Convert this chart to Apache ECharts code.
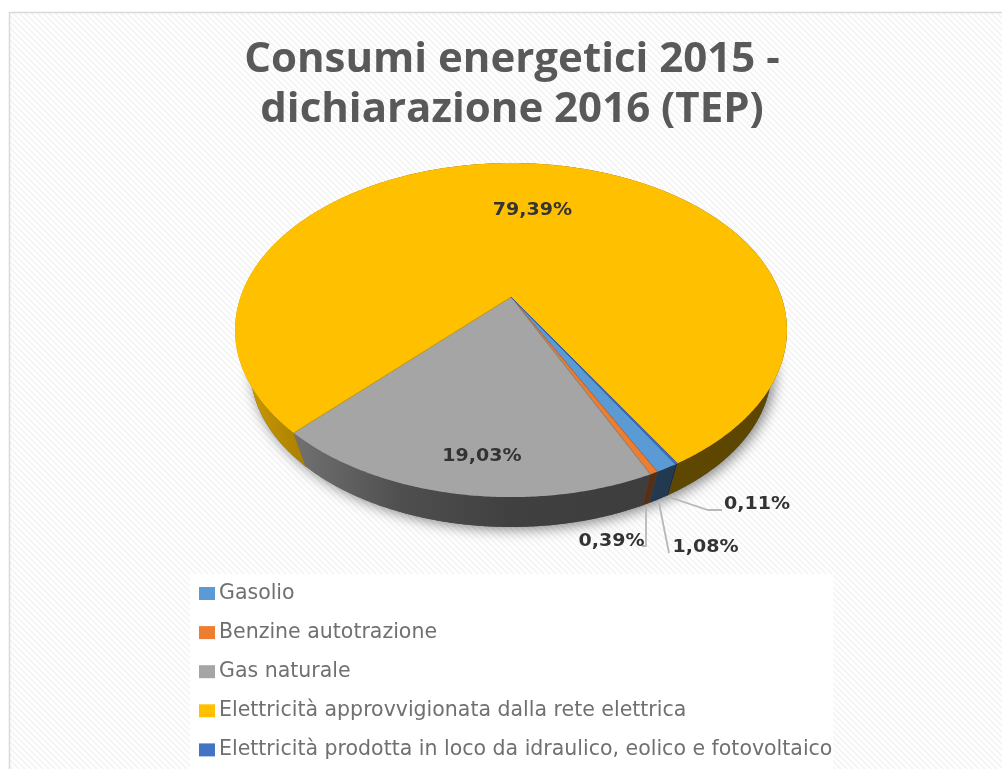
<!DOCTYPE html>
<html><head><meta charset="utf-8">
<style>html,body{margin:0;padding:0;background:#fff}#c{width:1002px;height:769px;filter:blur(0.55px)}</style>
<script src="https://cdn.jsdelivr.net/npm/echarts@6/dist/echarts.min.js"></script>
</head><body><div id="c"></div>
<script>
const titleLines = ['Consumi energetici 2015 -', 'dichiarazione 2016 (TEP)'];
const categories = ['Gasolio', 'Benzine autotrazione', 'Gas naturale',
  'Elettricità approvvigionata dalla rete elettrica',
  'Elettricità prodotta in loco da idraulico, eolico e fotovoltaico'];
const values = [1.08, 0.39, 19.03, 79.39, 0.11];
const colors = ['#5B9BD5', '#ED7D31', '#A5A5A5', '#FFC000', '#4472C4'];

// layout only
const firstAngle = 149.7;
const P = {cx: 511, cy: 297, A: 270.5, B: 160.5, k: 0.198, vx: 511, vy: 1030, s: 0.944};
const labelAt = [[705.5, 548], [611.5, 542], [482, 457], [532.5, 211], [757, 505]];
const leaders = [
  [[659, 503], [669, 553]],
  [[646, 506], [646, 546], [642, 546]],
  null, null,
  [[669, 497], [708, 510], [722, 510]]
];
const total = values.reduce((a, b) => a + b, 0);
const pct = v => v.toFixed(2).replace('.', ',') + '%';

function topPt(deg) {
  const t = deg * Math.PI / 180, X = Math.sin(t), Y = Math.cos(t), w = 1 + P.k * Y;
  return [P.cx + P.A * X / w, P.cy - P.B * Y / w];
}
function lowPt(p) { return [P.vx + (p[0] - P.vx) * P.s, P.vy + (p[1] - P.vy) * P.s]; }
function arc(a0, a1) {
  const n = Math.max(2, Math.ceil((a1 - a0) * 2)), out = [];
  for (let i = 0; i <= n; i++) out.push(topPt(a0 + (a1 - a0) * i / n));
  return out;
}
function shade(hex, f) {
  const n = parseInt(hex.slice(1), 16);
  return 'rgb(' + [(n >> 16) & 255, (n >> 8) & 255, n & 255].map(c => Math.round(c * f)).join(',') + ')';
}
function wallFill(hex) {
  return {type: 'linear', global: true, x: 235, y: 0, x2: 787, y2: 0, colorStops: [
    {offset: 0, color: shade(hex, 0.82)},
    {offset: 0.13, color: shade(hex, 0.66)},
    {offset: 0.3, color: shade(hex, 0.48)},
    {offset: 0.5, color: shade(hex, 0.39)},
    {offset: 1, color: shade(hex, 0.36)}]};
}
function startOf(i) {
  let s = firstAngle;
  for (let j = 0; j < i; j++) s += values[j] / total * 360;
  return s;
}
function render(i) {
  return function (params, api) {
    const a0 = startOf(i), a1 = a0 + api.value(0) / total * 360;
    const rim = arc(a0, a1), children = [];
    if (i === 0) {
      children.push({type: 'polygon', silent: true, z2: 1, shape: {points: arc(0, 360).map(lowPt)},
        style: {fill: '#555', shadowBlur: 14, shadowColor: 'rgba(0,0,0,0.5)', shadowOffsetX: 3, shadowOffsetY: 2}});
    }
    children.push({type: 'polygon', z2: 2, shape: {points: rim.concat(rim.slice().reverse().map(lowPt))},
      style: {fill: wallFill(colors[i])}});
    children.push({type: 'polygon', z2: 3, shape: {points: [[P.cx, P.cy]].concat(rim)},
      style: {fill: colors[i]}});
    children.push({type: 'polyline', z2: 3, shape: {points: [rim[0], [P.cx, P.cy], rim[rim.length - 1]]},
      style: {stroke: shade(colors[i], 0.8), lineWidth: 0.8, fill: null}});
    if (leaders[i]) {
      children.push({type: 'polyline', z2: 4, shape: {points: leaders[i]},
        style: {stroke: '#b8b8b8', lineWidth: 1.8, fill: null}});
    }
    children.push({type: 'text', z2: 5, x: labelAt[i][0], y: labelAt[i][1], scaleX: 1.12,
      style: {text: pct(values[i]), x: 0, y: 0, align: 'center', verticalAlign: 'middle', fill: '#333',
      font: 'bold 17px "DejaVu Sans"'}});
    return {type: 'group', children};
  };
}

const stripe = document.createElement('canvas');
stripe.width = stripe.height = 6;
(function () {
  const g = stripe.getContext('2d');
  g.fillStyle = '#fff'; g.fillRect(0, 0, 6, 6);
  g.strokeStyle = '#f4f4f4'; g.lineWidth = 1.7;
  [[-3, 3, 3, 9], [0, 0, 6, 6], [3, -3, 9, 3]].forEach(s => {
    g.beginPath(); g.moveTo(s[0], s[1]); g.lineTo(s[2], s[3]); g.stroke();
  });
})();

const chart = echarts.init(document.getElementById('c'), null, {renderer: 'canvas'});
chart.setOption({
  animation: false,
  backgroundColor: '#fff',
  color: colors,
  title: {
    text: titleLines.join('\n'), left: 507, top: 30, textAlign: 'center',
    textStyle: {fontFamily: 'Open Sans', fontWeight: 'bold', fontSize: 42, lineHeight: 50, color: '#595959'}
  },
  legend: {
    orient: 'vertical', left: 199, top: 583, padding: 0, itemWidth: 16, itemHeight: 13, itemGap: 18.1,
    icon: 'rect', selectedMode: false,
    data: categories,
    textStyle: {fontFamily: 'DejaVu Sans', fontSize: 20.5, color: '#707070', lineHeight: 18, padding: [0, 0, 0, -1]}
  },
  graphic: [
    {type: 'rect', silent: true, z: -2, shape: {x: 9.5, y: 12.5, width: 1100, height: 900},
      style: {fill: {image: stripe, repeat: 'repeat'}, stroke: '#d9d9d9', lineWidth: 1.5}},
    {type: 'rect', silent: true, z: -1, shape: {x: 190, y: 574, width: 643, height: 195},
      style: {fill: 'rgba(255,255,255,0.92)'}}
  ],
  series: categories.map((name, i) => ({
    type: 'custom', name, coordinateSystem: 'none', silent: true,
    itemStyle: {color: colors[i]},
    renderItem: render(i),
    data: [values[i]]
  }))
});
</script></body></html>
